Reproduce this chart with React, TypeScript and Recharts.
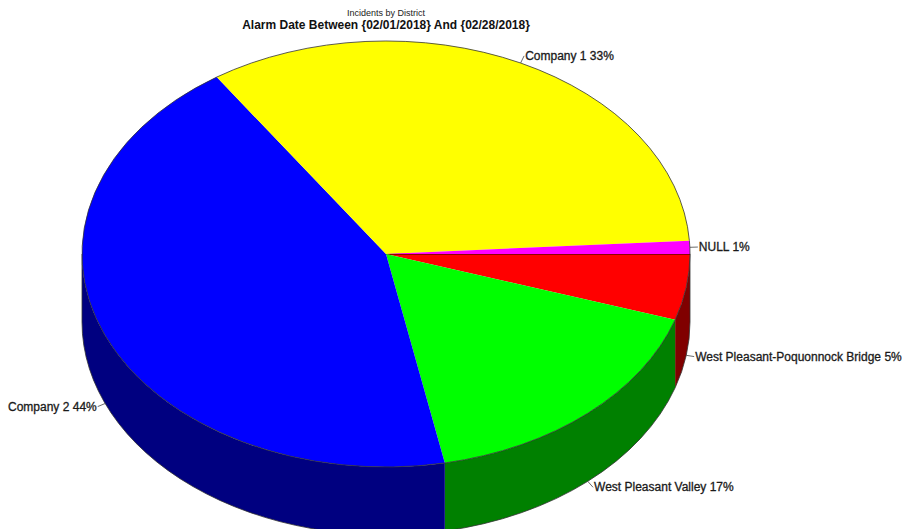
import React from 'react';
import { PieChart, Pie } from 'recharts';

const districts = ['West Pleasant-Poquonnock Bridge', 'West Pleasant Valley', 'Company 2', 'Company 1', 'NULL'];
const shares = [5.0, 16.9, 43.7, 33.4, 1.0];
const topColors = ['#FF0000', '#00FF00', '#0000FF', '#FFFF00', '#FF00FF'];
const sideColors = ['#800000', '#008000', '#000080', '#808000', '#800080'];

const data = districts.map((name, i) => ({ name, value: shares[i] }));

// ellipse used to fake the 3D look
const RX = 304;
const RY = 213;
const DEPTH = 68;
const RAD = Math.PI / 180;
const FONT = '"Liberation Sans", Arial, sans-serif';

const pt = (cx: number, cy: number, a: number, dy = 0) => [
  cx + RX * Math.cos(-a * RAD),
  cy + RY * Math.sin(-a * RAD) + dy,
];

const arcTo = (cx: number, cy: number, from: number, to: number, dy: number, sweep: number) => {
  const [x, y] = pt(cx, cy, to, dy);
  const large = Math.abs(from - to) > 180 ? 1 : 0;
  return `A ${RX} ${RY} 0 ${large} ${sweep} ${x} ${y}`;
};

const renderSlice = (props: any) => {
  const { cx, cy, startAngle, endAngle, index } = props;
  const [sx, sy] = pt(cx, cy, startAngle);
  const top = `M ${cx} ${cy} L ${sx} ${sy} ${arcTo(cx, cy, startAngle, endAngle, 0, 1)} Z`;
  const topEdge = `M ${sx} ${sy} ${arcTo(cx, cy, startAngle, endAngle, 0, 1)}`;

  // front wall: only the part between 0 and -180 degrees shows
  const hi = Math.min(startAngle, 0);
  const lo = Math.max(endAngle, -180);
  let side = null;
  if (lo < hi) {
    const [hx, hy] = pt(cx, cy, hi);
    const [lx, ly] = pt(cx, cy, lo, DEPTH);
    const [bx, by] = pt(cx, cy, hi, DEPTH);
    const d = `M ${hx} ${hy} ${arcTo(cx, cy, hi, lo, 0, 1)} L ${lx} ${ly} ${arcTo(cx, cy, lo, hi, DEPTH, 0)} Z`;
    const bottomEdge = `M ${bx} ${by} ${arcTo(cx, cy, hi, lo, DEPTH, 1)}`;
    side = (
      <g>
        <path d={d} fill={sideColors[index]} stroke="none" />
        <path d={bottomEdge} fill="none" stroke="#333" strokeWidth={0.8} />
        {hi === 0 && <line x1={hx} y1={hy} x2={bx} y2={by} stroke="#333" strokeWidth={0.8} />}
        {lo === -180 && (
          <line x1={pt(cx, cy, lo)[0]} y1={pt(cx, cy, lo)[1]} x2={lx} y2={ly} stroke="#333" strokeWidth={0.8} />
        )}
      </g>
    );
  }

  return (
    <g key={`slice-${index}`}>
      {side}
      <path d={top} fill={topColors[index]} stroke="none" />
      <path d={topEdge} fill="none" stroke="#333" strokeWidth={0.8} />
      {startAngle === 0 && <line x1={cx} y1={cy} x2={sx} y2={sy} stroke="#200" strokeWidth={1.2} />}
    </g>
  );
};

const renderLabel = (props: any) => {
  const { cx, cy, midAngle, index, percent } = props;
  const c = Math.cos(-midAngle * RAD);
  const s = Math.sin(-midAngle * RAD);
  const [px, py] = pt(cx, cy, midAngle, s > 0 ? DEPTH : 0);
  const ex = px + c * 8;
  const ey = py + s * 8;
  const right = c >= 0;
  return (
    <g key={`label-${index}`}>
      <line x1={px} y1={py} x2={ex} y2={ey} stroke="#444" strokeWidth={0.8} />
      <text
        x={right ? ex + 1 : ex - 1}
        y={ey}
        dy={4}
        textAnchor={right ? 'start' : 'end'}
        fontFamily={FONT}
        fontSize={12}
        fill="#1a1a1a"
        stroke="#1a1a1a"
        strokeWidth={0.3}
      >
        {`${districts[index]} ${Math.round(percent * 100)}%`}
      </text>
    </g>
  );
};

export default function App() {
  return (
    <div style={{ position: 'absolute', left: 0, top: 0, width: 909, height: 529, background: '#fff', overflow: 'hidden' }}>
      <div
        style={{
          position: 'absolute', left: 0, top: 8, width: 772, textAlign: 'center',
          fontFamily: FONT, fontSize: 9, lineHeight: '10px', color: '#222',
        }}
      >
        Incidents by District
      </div>
      <div
        style={{
          position: 'absolute', left: 0, top: 18, width: 772, textAlign: 'center',
          fontFamily: FONT, fontSize: 12, lineHeight: '14px', color: '#111', fontWeight: 'bold',
        }}
      >
        {'Alarm Date Between {02/01/2018} And {02/28/2018}'}
      </div>
      <div style={{ position: 'absolute', left: 0, top: 0 }}>
        <PieChart width={909} height={529} margin={{ top: 0, right: 0, bottom: 0, left: 0 }}>
          <Pie
            data={data}
            dataKey="value"
            nameKey="name"
            cx={386}
            cy={254}
            outerRadius={RX}
            startAngle={0}
            endAngle={-360}
            fill="none"
            stroke="none"
            label={renderSlice}
            labelLine={false}
            isAnimationActive={false}
          />
          <Pie
            data={data}
            dataKey="value"
            nameKey="name"
            cx={386}
            cy={254}
            outerRadius={RX}
            startAngle={0}
            endAngle={-360}
            fill="none"
            stroke="none"
            label={renderLabel}
            labelLine={false}
            isAnimationActive={false}
          />
        </PieChart>
      </div>
    </div>
  );
}
